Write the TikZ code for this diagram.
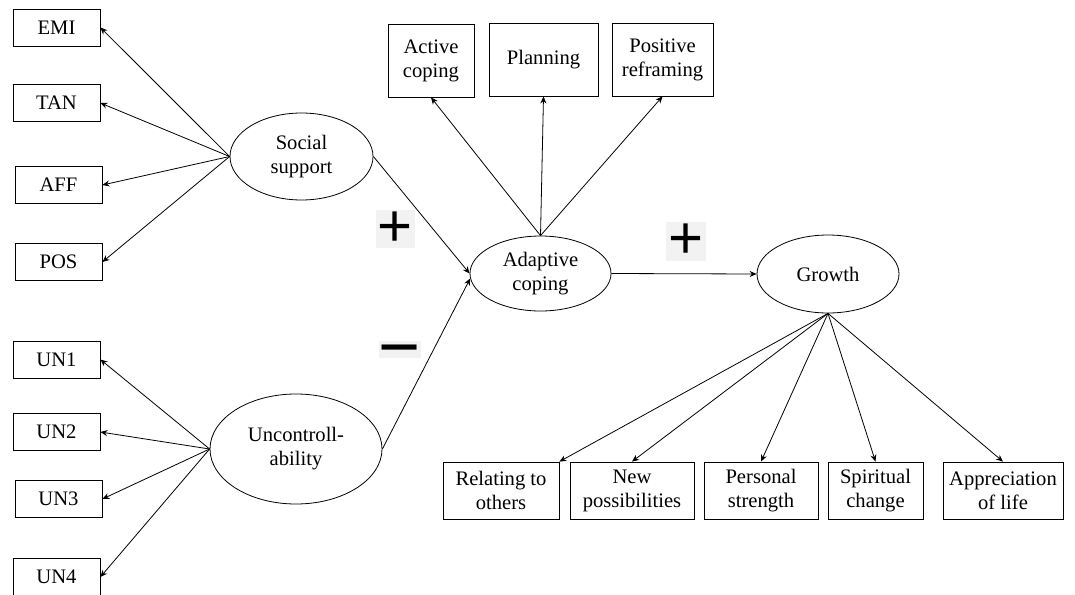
\documentclass[tikz,border=0pt]{standalone}
\usepackage{fontspec}
\setmainfont{Liberation Serif}
\newfontfamily\signfont{Liberation Sans}
\usetikzlibrary{arrows.meta, positioning, shapes.geometric}

\begin{document}
\begin{tikzpicture}[
	x=0.5pt, y=-0.5pt,
	every node/.style={font=\fontsize{10.3}{12}\selectfont},
	obs/.style={rectangle, draw, thin, inner sep=0pt, align=center, minimum height=18.5pt},
	tallobs/.style={obs, minimum height=36.5pt},
	lowobs/.style={obs, minimum height=28.5pt},
	lat/.style={ellipse, draw, thin, inner sep=0pt, align=center},
	sign/.style={fill=black!5, inner sep=1pt, font=\signfont\fontsize{30}{30}\selectfont},
	arrow/.style={-{Stealth[length=3.5pt, width=3pt]}, thin}
]
	\useasboundingbox (0,0) rectangle (1075,594);

	% indicators of social support
	\node[obs, minimum width=43.5pt] (emi) at (56.5,27.5) {EMI};
	\node[obs, minimum width=43.5pt] (tan) at (56.5,103) {TAN};
	\node[obs, minimum width=43.5pt] (aff) at (58.5,185) {AFF};
	\node[obs, minimum width=43.5pt] (pos) at (58.5,262) {POS};
	% indicators of uncontrollability
	\node[obs, minimum width=43.5pt] (un1) at (56.5,359.5) {UN1};
	\node[obs, minimum width=43.5pt] (un2) at (56.5,432) {UN2};
	\node[obs, minimum width=43.5pt] (un3) at (58.5,499) {UN3};
	\node[obs, minimum width=43.5pt] (un4) at (56.5,577) {UN4};

	% latent variables
	\node[lat, minimum width=71.5pt, minimum height=43.5pt] (social) at (301.5,156.5) {Social\\support};
	\node[lat, minimum width=86pt, minimum height=55pt] (uncontr) at (296,449) {Uncontroll-\\ability};
	\node[lat, minimum width=70.5pt, minimum height=37.5pt] (adaptive) at (540.5,273.5) {Adaptive\\coping};
	\node[lat, minimum width=71pt, minimum height=39pt] (growth) at (828,274) {Growth};

	% indicators of adaptive coping
	\node[tallobs, minimum width=43pt] (active) at (431,60.5) {Active\\coping};
	\node[tallobs, minimum width=54.5pt] (planning) at (543.5,59.5) {Planning};
	\node[tallobs, minimum width=50.5pt] (reframe) at (662.5,59.5) {Positive\\reframing};

	% indicators of growth
	\node[lowobs, minimum width=58pt] (relating) at (501,490.5) {Relating to\\others};
	\node[lowobs, minimum width=62pt] (newposs) at (632,490.5) {New\\possibilities};
	\node[lowobs, minimum width=57pt] (strength) at (761,490.5) {Personal\\strength};
	\node[lowobs, minimum width=47.5pt] (spiritual) at (875.5,490.5) {Spiritual\\change};
	\node[lowobs, minimum width=60pt] (apprec) at (1003,490.5) {Appreciation\\of life};

	% signs of the paths
	\node[sign] (plusa) at (395.5,229) {+};
	\node[sign, inner xsep=0pt, inner ysep=2.5pt, text height=3.5pt, text depth=0pt,
		font=\signfont\fontsize{36}{36}\selectfont] (minus) at (400,349) {\raisebox{-9.5pt}{−}};
	\node[sign] (plusb) at (686,241.5) {+};

	\foreach \t in {emi, tan, aff, pos}
		\draw[arrow] (social.west) -- (\t.east);
	\foreach \t in {un1, un2, un3, un4}
		\draw[arrow] (uncontr.west) -- (\t.east);
	\foreach \t in {active, planning, reframe}
		\draw[arrow] (adaptive.north) -- (\t.south);
	\draw[arrow] (growth.south) -- (relating.north east);
	\foreach \t in {newposs, strength, spiritual, apprec}
		\draw[arrow] (growth.south) -- (\t.north);

	\draw[arrow] (social.east) -- (adaptive.west);
	\draw[arrow] (uncontr.east) -- (adaptive.184);
	\draw[arrow] (adaptive.east) -- (growth.west);
\end{tikzpicture}
\end{document}
